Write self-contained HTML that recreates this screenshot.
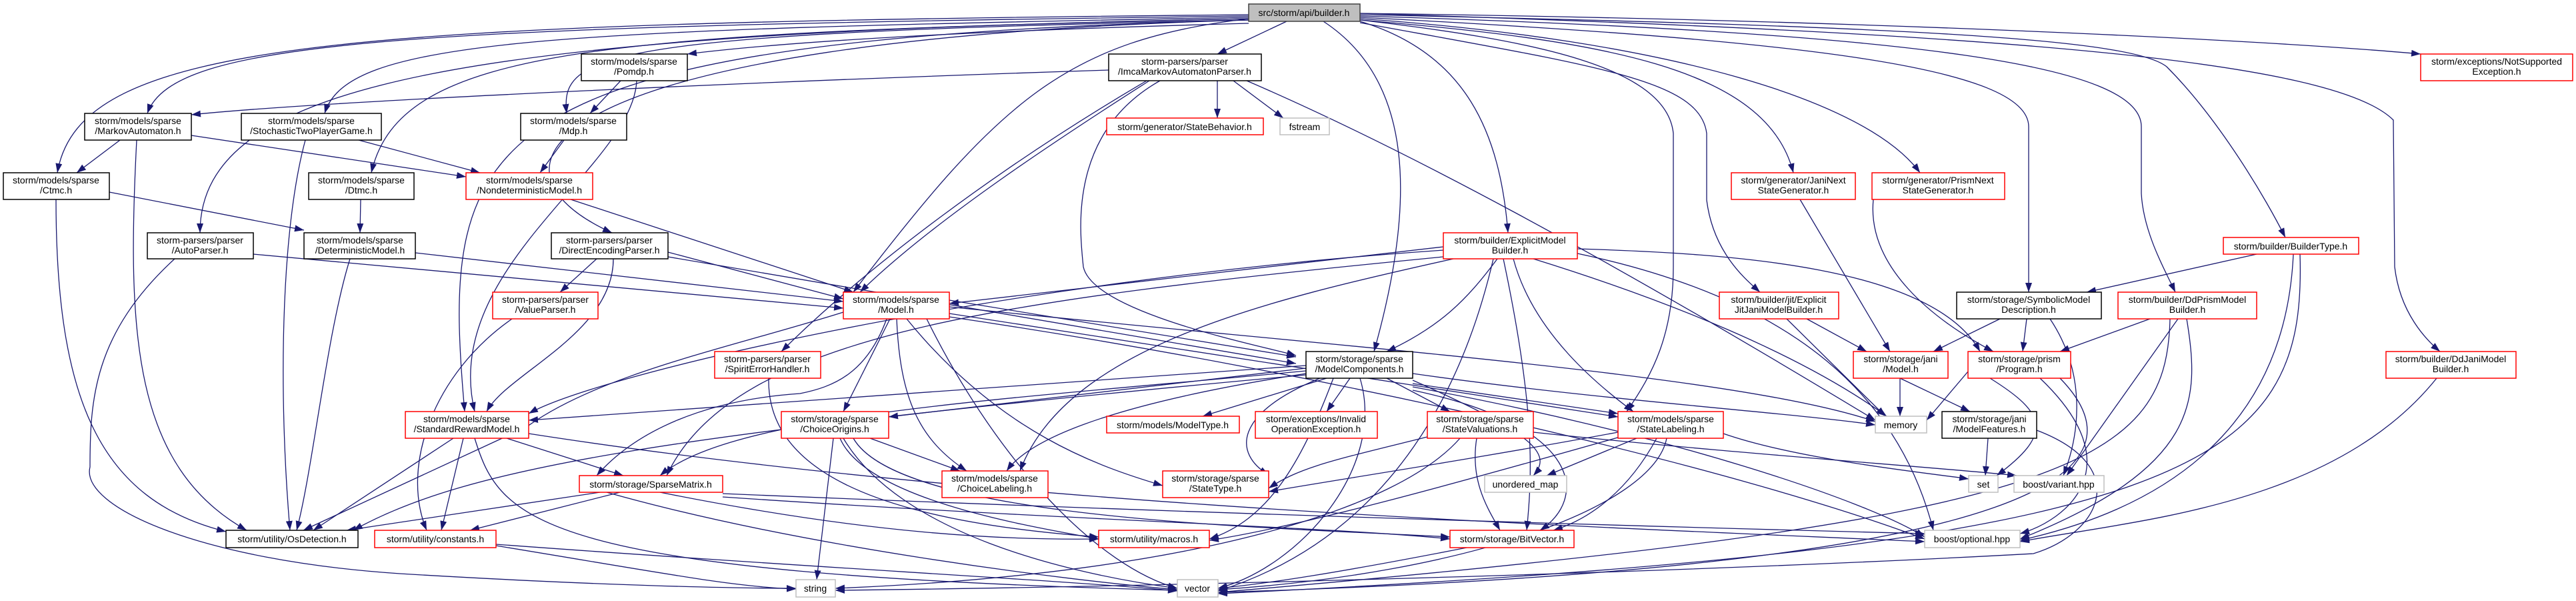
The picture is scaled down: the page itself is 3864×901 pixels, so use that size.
<!DOCTYPE html>
<html><head><meta charset="utf-8"><style>
html,body{margin:0;padding:0;background:#fff;}
svg{display:block;}
text{font-family:"Liberation Sans",sans-serif;font-size:14px;fill:#000;}
.e path{fill:none;stroke:#191970;stroke-width:1.3;}
</style></head><body>
<svg width="3864" height="901" viewBox="0 0 3864 901" xmlns="http://www.w3.org/2000/svg">
<defs><marker id="a" markerWidth="14" markerHeight="10" refX="14" refY="5" orient="auto" markerUnits="userSpaceOnUse"><path d="M0,0 L14,5 L0,10 z" fill="#191970"/></marker></defs>
<g class="e" marker-end="url(#a)">
<path marker-end="url(#a)" d="M1873,22 C500,35 120,60 86,259"/>
<path marker-end="url(#a)" d="M1873,24 C600,40 260,60 221,170"/>
<path marker-end="url(#a)" d="M1873,26 C800,45 520,60 487,170"/>
<path marker-end="url(#a)" d="M1873,28 C700,50 300,120 300,349"/>
<path marker-end="url(#a)" d="M1873,28 C900,50 600,70 557,259"/>
<path marker-end="url(#a)" d="M1873,30 C700,60 660,200 697,617"/>
<path marker-end="url(#a)" d="M1873,30 C900,50 840,80 850,170"/>
<path marker-end="url(#a)" d="M1873,30 C800,60 700,250 918,349"/>
<path marker-end="url(#a)" d="M1873,35 C1500,45 1200,60 1031,81"/>
<path marker-end="url(#a)" d="M1930,32 L1826,81"/>
<path marker-end="url(#a)" d="M1873,28 C1600,60 1500,150 1280,438"/>
<path marker-end="url(#a)" d="M1724,121 C1600,200 1400,330 1290,438"/>
<path marker-end="url(#a)" d="M1740,121 C1600,200 1620,350 1625,400 C1640,470 1900,520 1944,533"/>
<path marker-end="url(#a)" d="M1663,105 C1200,120 500,150 287,172"/>
<path marker-end="url(#a)" d="M1826,121 L1826,177"/>
<path marker-end="url(#a)" d="M1850,121 L1925,177"/>
<path marker-end="url(#a)" d="M1870,121 C2100,220 2400,380 2813,630"/>
<path marker-end="url(#a)" d="M1720,121 C1500,250 1300,400 1172,527"/>
<path marker-end="url(#a)" d="M1985,32 C2120,120 2125,300 2061,527"/>
<path marker-end="url(#a)" d="M2246,388 C2200,450 2160,490 2080,527"/>
<path marker-end="url(#a)" d="M2040,32 C2200,80 2250,200 2262,349"/>
<path marker-end="url(#a)" d="M2040,30 C2300,60 2500,100 2510,200 L2510,400 C2510,500 2480,560 2440,617"/>
<path marker-end="url(#a)" d="M2040,30 C2400,60 2650,100 2690,259"/>
<path marker-end="url(#a)" d="M2040,28 C2500,60 2800,150 2880,259"/>
<path marker-end="url(#a)" d="M2040,34 C2400,100 2550,120 2560,200 L2560,300 C2570,380 2620,420 2640,438"/>
<path marker-end="url(#a)" d="M2040,26 C2700,60 3043,100 3043,190 L3043,438"/>
<path marker-end="url(#a)" d="M2040,24 C2900,50 3212,100 3212,190 L3212,290 C3215,350 3250,410 3263,438"/>
<path marker-end="url(#a)" d="M2040,22 C2900,40 3200,60 3250,100 C3330,180 3400,300 3428,356"/>
<path marker-end="url(#a)" d="M2040,20 C3000,50 3500,90 3590,180 L3592,400 C3600,470 3640,510 3660,527"/>
<path marker-end="url(#a)" d="M2040,20 C2800,30 3400,60 3631,81"/>
<path marker-end="url(#a)" d="M180,210 L115,259"/>
<path marker-end="url(#a)" d="M287,203 L699,265"/>
<path marker-end="url(#a)" d="M205,210 C190,500 200,700 370,795"/>
<path marker-end="url(#a)" d="M538,210 L720,259"/>
<path marker-end="url(#a)" d="M458,210 C420,350 418,600 435,795"/>
<path marker-end="url(#a)" d="M164,288 L456,345"/>
<path marker-end="url(#a)" d="M84,299 C84,600 150,750 339,797"/>
<path marker-end="url(#a)" d="M541,299 L540,349"/>
<path marker-end="url(#a)" d="M846,210 L810,259"/>
<path marker-end="url(#a)" d="M931,121 L885,170"/>
<path marker-end="url(#a)" d="M955,121 C950,250 660,400 712,617"/>
<path marker-end="url(#a)" d="M856,299 L1280,438"/>
<path marker-end="url(#a)" d="M623,379 L1265,452"/>
<path marker-end="url(#a)" d="M525,388 C490,500 470,700 445,795"/>
<path marker-end="url(#a)" d="M380,381 L1265,462"/>
<path marker-end="url(#a)" d="M262,388 C140,500 135,600 135,700 C120,760 300,840 600,860 C900,878 1100,882 1194,882"/>
<path marker-end="url(#a)" d="M895,388 L840,438"/>
<path marker-end="url(#a)" d="M1002,378 L1265,448"/>
<path marker-end="url(#a)" d="M920,388 C920,500 760,560 730,617"/>
<path marker-end="url(#a)" d="M1002,385 L1944,545"/>
<path marker-end="url(#a)" d="M768,478 C650,560 600,700 640,795"/>
<path marker-end="url(#a)" d="M1335,478 L1265,617"/>
<path marker-end="url(#a)" d="M1345,478 C1350,600 1380,660 1450,706"/>
<path marker-end="url(#a)" d="M1360,478 C1500,650 1650,700 1744,728"/>
<path marker-end="url(#a)" d="M1424,470 L2427,625"/>
<path marker-end="url(#a)" d="M1424,460 C2000,520 2600,560 2813,632"/>
<path marker-end="url(#a)" d="M1330,478 C1300,560 1250,580 1200,590 C1050,600 950,650 895,713"/>
<path marker-end="url(#a)" d="M1265,468 C1100,520 900,560 790,640 L455,795"/>
<path marker-end="url(#a)" d="M1390,478 C1500,700 1650,850 1766,882"/>
<path marker-end="url(#a)" d="M1424,475 C2000,560 2600,700 2887,808"/>
<path marker-end="url(#a)" d="M1424,450 L1944,535"/>
<path marker-end="url(#a)" d="M1990,567 L1804,624"/>
<path marker-end="url(#a)" d="M2025,567 L1990,617"/>
<path marker-end="url(#a)" d="M2080,567 L2175,617"/>
<path marker-end="url(#a)" d="M2119,575 L2427,620"/>
<path marker-end="url(#a)" d="M2119,560 C2400,600 2700,620 2813,637"/>
<path marker-end="url(#a)" d="M2119,570 C2300,650 2330,680 2300,713"/>
<path marker-end="url(#a)" d="M2119,585 C2380,640 2380,750 2310,795"/>
<path marker-end="url(#a)" d="M1980,567 C1850,620 1850,680 1903,712"/>
<path marker-end="url(#a)" d="M1959,560 C1700,600 1550,650 1510,706"/>
<path marker-end="url(#a)" d="M1959,552 L1333,625"/>
<path marker-end="url(#a)" d="M1959,548 L793,630"/>
<path marker-end="url(#a)" d="M1959,556 C1500,600 1100,620 990,713"/>
<path marker-end="url(#a)" d="M1959,562 C1000,650 700,700 530,795"/>
<path marker-end="url(#a)" d="M2000,567 C1950,700 1900,780 1814,808"/>
<path marker-end="url(#a)" d="M2040,567 C2080,700 1950,850 1827,882"/>
<path marker-end="url(#a)" d="M2119,580 C2500,650 2800,750 2887,805"/>
<path marker-end="url(#a)" d="M680,657 L470,795"/>
<path marker-end="url(#a)" d="M695,657 L662,795"/>
<path marker-end="url(#a)" d="M760,657 L935,713"/>
<path marker-end="url(#a)" d="M712,657 C750,780 800,860 1766,885"/>
<path marker-end="url(#a)" d="M793,650 C1500,760 2400,790 2887,812"/>
<path marker-end="url(#a)" d="M900,738 L520,795"/>
<path marker-end="url(#a)" d="M930,738 L705,795"/>
<path marker-end="url(#a)" d="M990,738 C1300,800 1500,810 1648,808"/>
<path marker-end="url(#a)" d="M1084,745 C1600,780 2000,790 2175,808"/>
<path marker-end="url(#a)" d="M910,738 C1200,820 1600,870 1766,884"/>
<path marker-end="url(#a)" d="M1084,740 C1800,770 2500,790 2887,800"/>
<path marker-end="url(#a)" d="M744,816 C1200,850 1600,870 1766,886"/>
<path marker-end="url(#a)" d="M744,818 C1000,860 1100,880 1194,883"/>
<path marker-end="url(#a)" d="M1305,657 L1440,706"/>
<path marker-end="url(#a)" d="M1250,657 L1225,869"/>
<path marker-end="url(#a)" d="M1265,657 C1350,800 1600,860 1766,882"/>
<path marker-end="url(#a)" d="M1280,657 C1350,780 1900,790 2175,805"/>
<path marker-end="url(#a)" d="M1260,657 C1300,750 1550,790 1648,808"/>
<path marker-end="url(#a)" d="M1153,567 C1150,700 1300,780 1648,805"/>
<path marker-end="url(#a)" d="M2215,657 C2205,720 2230,760 2250,795"/>
<path marker-end="url(#a)" d="M2141,655 C2000,690 1950,700 1903,732"/>
<path marker-end="url(#a)" d="M2190,657 C2100,760 1800,860 1253,882"/>
<path marker-end="url(#a)" d="M2300,648 C2600,680 2900,700 3025,713"/>
<path marker-end="url(#a)" d="M2455,657 L2320,713"/>
<path marker-end="url(#a)" d="M2485,657 C2440,740 2380,780 2330,795"/>
<path marker-end="url(#a)" d="M2427,648 C2200,690 2000,720 1903,737"/>
<path marker-end="url(#a)" d="M2430,655 C2200,720 1950,790 1814,810"/>
<path marker-end="url(#a)" d="M2585,650 C2700,690 2900,710 2953,718"/>
<path marker-end="url(#a)" d="M2500,657 C2480,760 2200,860 1827,884"/>
<path marker-end="url(#a)" d="M2165,370 L1424,455"/>
<path marker-end="url(#a)" d="M2165,375 C1500,420 900,560 793,620"/>
<path marker-end="url(#a)" d="M2165,385 C1500,450 1100,500 1000,713"/>
<path marker-end="url(#a)" d="M2180,388 C1900,450 1600,520 1530,706"/>
<path marker-end="url(#a)" d="M2270,388 C2300,500 2400,580 2450,617"/>
<path marker-end="url(#a)" d="M2255,388 C2300,600 2300,700 2290,795"/>
<path marker-end="url(#a)" d="M2300,388 C2500,450 2700,530 2830,624"/>
<path marker-end="url(#a)" d="M2366,373 C2600,380 2900,400 2970,527"/>
<path marker-end="url(#a)" d="M2366,380 C2700,450 2850,600 2900,795"/>
<path marker-end="url(#a)" d="M2240,388 C2200,560 2100,800 1827,886"/>
<path marker-end="url(#a)" d="M2700,299 L2835,527"/>
<path marker-end="url(#a)" d="M2810,299 C2800,400 2900,480 2990,527"/>
<path marker-end="url(#a)" d="M2710,478 L2800,527"/>
<path marker-end="url(#a)" d="M2680,478 L2828,624"/>
<path marker-end="url(#a)" d="M3000,478 L2900,527"/>
<path marker-end="url(#a)" d="M3040,478 L3034,527"/>
<path marker-end="url(#a)" d="M3075,478 C3130,560 3120,650 3095,713"/>
<path marker-end="url(#a)" d="M3225,478 L3090,527"/>
<path marker-end="url(#a)" d="M3267,478 L3100,713"/>
<path marker-end="url(#a)" d="M3280,478 C3300,600 3300,700 3030,808"/>
<path marker-end="url(#a)" d="M3255,478 C3250,700 3100,780 1827,888"/>
<path marker-end="url(#a)" d="M3385,381 L3130,438"/>
<path marker-end="url(#a)" d="M3440,381 C3430,600 3300,750 3030,810"/>
<path marker-end="url(#a)" d="M3450,381 C3460,700 3300,820 1827,890"/>
<path marker-end="url(#a)" d="M3655,567 C3500,760 3200,780 3030,812"/>
<path marker-end="url(#a)" d="M2952,557 L2890,630"/>
<path marker-end="url(#a)" d="M2985,567 C3070,620 3080,650 2995,713"/>
<path marker-end="url(#a)" d="M3060,567 C3200,700 3100,780 3030,800"/>
<path marker-end="url(#a)" d="M3090,567 C3220,700 3100,850 1827,888"/>
<path marker-end="url(#a)" d="M2850,567 L2955,617"/>
<path marker-end="url(#a)" d="M2850,567 L2850,624"/>
<path marker-end="url(#a)" d="M2982,657 L2978,713"/>
<path marker-end="url(#a)" d="M3055,645 C3200,700 3150,800 3050,830 C2500,860 1700,880 1253,885"/>
<path marker-end="url(#a)" d="M2200,821 C2000,860 1900,875 1827,882"/>
</g>
<g fill="#fff" stroke-width="1.5">
<rect x="1873" y="6" width="167" height="26" fill="#bfbfbf" stroke="#404040"/>
<rect x="872" y="81" width="159" height="40" stroke="#000"/>
<rect x="1663" y="81" width="229" height="40" stroke="#000"/>
<rect x="3631" y="81" width="228" height="40" stroke="#f00"/>
<rect x="1660" y="177" width="235" height="25" stroke="#f00"/>
<rect x="1920" y="177" width="74" height="25" stroke="#bfbfbf"/>
<rect x="127" y="170" width="160" height="40" stroke="#000"/>
<rect x="362" y="170" width="210" height="40" stroke="#000"/>
<rect x="781" y="170" width="159" height="40" stroke="#000"/>
<rect x="5" y="259" width="159" height="40" stroke="#000"/>
<rect x="463" y="259" width="158" height="40" stroke="#000"/>
<rect x="699" y="259" width="190" height="40" stroke="#f00"/>
<rect x="2597" y="259" width="186" height="40" stroke="#f00"/>
<rect x="2808" y="259" width="199" height="40" stroke="#f00"/>
<rect x="221" y="349" width="159" height="39" stroke="#000"/>
<rect x="456" y="349" width="167" height="39" stroke="#000"/>
<rect x="827" y="349" width="175" height="39" stroke="#000"/>
<rect x="2165" y="349" width="201" height="39" stroke="#f00"/>
<rect x="3335" y="356" width="203" height="25" stroke="#f00"/>
<rect x="739" y="438" width="158" height="40" stroke="#f00"/>
<rect x="1265" y="438" width="159" height="40" stroke="#f00"/>
<rect x="2579" y="438" width="179" height="40" stroke="#f00"/>
<rect x="2935" y="438" width="217" height="40" stroke="#000"/>
<rect x="3177" y="438" width="208" height="40" stroke="#f00"/>
<rect x="3579" y="527" width="195" height="40" stroke="#f00"/>
<rect x="2952" y="527" width="154" height="40" stroke="#f00"/>
<rect x="2780" y="527" width="142" height="40" stroke="#f00"/>
<rect x="1959" y="527" width="160" height="40" stroke="#000"/>
<rect x="1072" y="527" width="159" height="40" stroke="#f00"/>
<rect x="608" y="617" width="185" height="40" stroke="#f00"/>
<rect x="1172" y="617" width="161" height="40" stroke="#f00"/>
<rect x="1660" y="624" width="199" height="25" stroke="#f00"/>
<rect x="1883" y="617" width="183" height="40" stroke="#f00"/>
<rect x="2141" y="617" width="159" height="40" stroke="#f00"/>
<rect x="2427" y="617" width="158" height="40" stroke="#f00"/>
<rect x="2813" y="624" width="77" height="25" stroke="#bfbfbf"/>
<rect x="2913" y="617" width="142" height="40" stroke="#000"/>
<rect x="869" y="713" width="215" height="25" stroke="#f00"/>
<rect x="1413" y="706" width="159" height="40" stroke="#f00"/>
<rect x="1744" y="706" width="159" height="40" stroke="#f00"/>
<rect x="2227" y="713" width="123" height="25" stroke="#bfbfbf"/>
<rect x="2953" y="713" width="44" height="25" stroke="#bfbfbf"/>
<rect x="3021" y="713" width="135" height="25" stroke="#bfbfbf"/>
<rect x="339" y="795" width="198" height="26" stroke="#000"/>
<rect x="562" y="795" width="182" height="26" stroke="#f00"/>
<rect x="1648" y="795" width="166" height="26" stroke="#f00"/>
<rect x="2175" y="795" width="186" height="26" stroke="#f00"/>
<rect x="2887" y="795" width="143" height="26" stroke="#bfbfbf"/>
<rect x="1194" y="869" width="59" height="26" stroke="#bfbfbf"/>
<rect x="1766" y="869" width="61" height="26" stroke="#bfbfbf"/>
</g>
<g text-anchor="middle">
<text x="1956" y="24">src/storm/api/builder.h</text>
<text x="951" y="97">storm/models/sparse</text><text x="951" y="112">/Pomdp.h</text>
<text x="1777" y="97">storm-parsers/parser</text><text x="1777" y="112">/ImcaMarkovAutomatonParser.h</text>
<text x="3745" y="97">storm/exceptions/NotSupported</text><text x="3745" y="112">Exception.h</text>
<text x="1777" y="195">storm/generator/StateBehavior.h</text>
<text x="1957" y="195">fstream</text>
<text x="207" y="186">storm/models/sparse</text><text x="207" y="201">/MarkovAutomaton.h</text>
<text x="467" y="186">storm/models/sparse</text><text x="467" y="201">/StochasticTwoPlayerGame.h</text>
<text x="860" y="186">storm/models/sparse</text><text x="860" y="201">/Mdp.h</text>
<text x="84" y="275">storm/models/sparse</text><text x="84" y="290">/Ctmc.h</text>
<text x="542" y="275">storm/models/sparse</text><text x="542" y="290">/Dtmc.h</text>
<text x="794" y="275">storm/models/sparse</text><text x="794" y="290">/NondeterministicModel.h</text>
<text x="2690" y="275">storm/generator/JaniNext</text><text x="2690" y="290">StateGenerator.h</text>
<text x="2907" y="275">storm/generator/PrismNext</text><text x="2907" y="290">StateGenerator.h</text>
<text x="300" y="365">storm-parsers/parser</text><text x="300" y="380">/AutoParser.h</text>
<text x="540" y="365">storm/models/sparse</text><text x="540" y="380">/DeterministicModel.h</text>
<text x="914" y="365">storm-parsers/parser</text><text x="914" y="380">/DirectEncodingParser.h</text>
<text x="2265" y="365">storm/builder/ExplicitModel</text><text x="2265" y="380">Builder.h</text>
<text x="3436" y="374">storm/builder/BuilderType.h</text>
<text x="818" y="454">storm-parsers/parser</text><text x="818" y="469">/ValueParser.h</text>
<text x="1344" y="454">storm/models/sparse</text><text x="1344" y="469">/Model.h</text>
<text x="2668" y="454">storm/builder/jit/Explicit</text><text x="2668" y="469">JitJaniModelBuilder.h</text>
<text x="3043" y="454">storm/storage/SymbolicModel</text><text x="3043" y="469">Description.h</text>
<text x="3281" y="454">storm/builder/DdPrismModel</text><text x="3281" y="469">Builder.h</text>
<text x="3676" y="543">storm/builder/DdJaniModel</text><text x="3676" y="558">Builder.h</text>
<text x="3029" y="543">storm/storage/prism</text><text x="3029" y="558">/Program.h</text>
<text x="2851" y="543">storm/storage/jani</text><text x="2851" y="558">/Model.h</text>
<text x="2039" y="543">storm/storage/sparse</text><text x="2039" y="558">/ModelComponents.h</text>
<text x="1151" y="543">storm-parsers/parser</text><text x="1151" y="558">/SpiritErrorHandler.h</text>
<text x="700" y="633">storm/models/sparse</text><text x="700" y="648">/StandardRewardModel.h</text>
<text x="1252" y="633">storm/storage/sparse</text><text x="1252" y="648">/ChoiceOrigins.h</text>
<text x="1759" y="642">storm/models/ModelType.h</text>
<text x="1974" y="633">storm/exceptions/Invalid</text><text x="1974" y="648">OperationException.h</text>
<text x="2220" y="633">storm/storage/sparse</text><text x="2220" y="648">/StateValuations.h</text>
<text x="2506" y="633">storm/models/sparse</text><text x="2506" y="648">/StateLabeling.h</text>
<text x="2851" y="642">memory</text>
<text x="2984" y="633">storm/storage/jani</text><text x="2984" y="648">/ModelFeatures.h</text>
<text x="976" y="731">storm/storage/SparseMatrix.h</text>
<text x="1492" y="722">storm/models/sparse</text><text x="1492" y="737">/ChoiceLabeling.h</text>
<text x="1823" y="722">storm/storage/sparse</text><text x="1823" y="737">/StateType.h</text>
<text x="2288" y="731">unordered_map</text>
<text x="2975" y="731">set</text>
<text x="3088" y="731">boost/variant.hpp</text>
<text x="438" y="813">storm/utility/OsDetection.h</text>
<text x="653" y="813">storm/utility/constants.h</text>
<text x="1731" y="813">storm/utility/macros.h</text>
<text x="2268" y="813">storm/storage/BitVector.h</text>
<text x="2958" y="813">boost/optional.hpp</text>
<text x="1223" y="887">string</text>
<text x="1796" y="887">vector</text>
</g>
</svg>
</body></html>
